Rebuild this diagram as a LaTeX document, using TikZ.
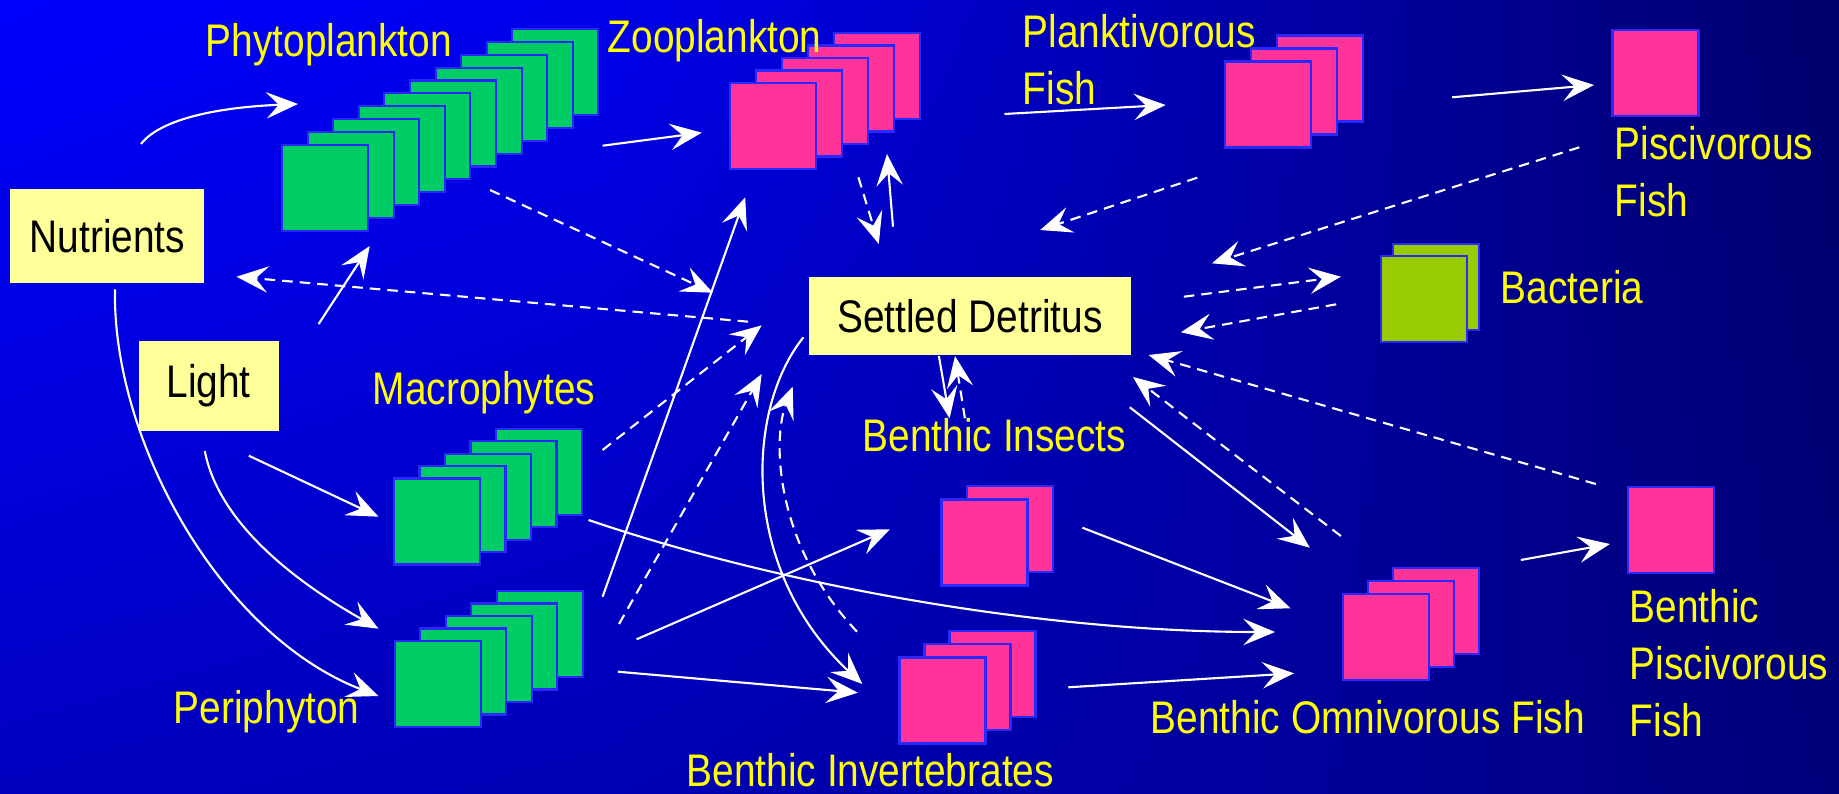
\documentclass[tikz,border=0pt]{standalone}
\usepackage{fontspec}
\setmainfont{Liberation Sans}[FakeStretch=0.85]
\usetikzlibrary{arrows.meta,shadings}

\definecolor{algae}{RGB}{0,204,102}
\definecolor{fauna}{RGB}{255,51,153}
\definecolor{microbe}{RGB}{153,204,0}
\definecolor{rim}{RGB}{40,40,255}
\definecolor{pad}{RGB}{255,255,153}
\definecolor{tag}{RGB}{255,255,0}
% sea colours, top (t) and bottom (b) at four columns
\definecolor{t0}{RGB}{0,0,255}  \definecolor{b0}{RGB}{0,0,192}
\definecolor{t1}{RGB}{0,0,236}  \definecolor{b1}{RGB}{0,0,180}
\definecolor{t2}{RGB}{0,0,172}  \definecolor{b2}{RGB}{0,0,160}
\definecolor{t3}{RGB}{0,0,108}  \definecolor{b3}{RGB}{0,0,122}

\tikzset{
  blob/.style={draw=rim, line width=0.6pt, minimum width=0.86cm, minimum height=0.86cm, inner sep=0pt},
  pool/.style={fill=pad, text=black, inner sep=0pt},
  tag/.style={text=tag, inner sep=0pt},
  flux/.style={draw=white, line width=0.6pt, -{Stealth[length=9pt,width=7.5pt,inset=3.5pt]}},
  detr/.style={flux, dash pattern=on 3pt off 2pt}
}

\begin{document}
\begin{tikzpicture}[x=0.01cm, y=-0.01cm, every node/.style={font=\fontsize{13}{16.2}\selectfont}]
\useasboundingbox (0,0) rectangle (1839,794);
\shade[upper left=t0, upper right=t1, lower left=b0, lower right=b1] (0,0) rectangle (601,794);
\shade[upper left=t1, upper right=t2, lower left=b1, lower right=b2] (600,0) rectangle (1221,794);
\shade[upper left=t2, upper right=t3, lower left=b2, lower right=b3] (1220,0) rectangle (1839,794);

% stacks of squares
\foreach \k in {9,...,0} \node[blob, fill=algae] (phyto-\k) at (325+25.6*\k, 188-12.9*\k) {};
\foreach \k in {4,...,0} \node[blob, fill=fauna] (zoo-\k) at (773+26*\k, 126-12.5*\k) {};
\foreach \k in {2,...,0} \node[blob, fill=fauna] (plankt-\k) at (1268+26*\k, 104.5-13*\k) {};
\node[blob, fill=fauna] (pisc) at (1655.5,73) {};
\foreach \k in {1,0} \node[blob, fill=microbe] (bact-\k) at (1424+11.6*\k, 299-11.7*\k) {};
\foreach \k in {4,...,0} \node[blob, fill=algae] (macro-\k) at (437+25.5*\k, 521.5-12.4*\k) {};
\foreach \k in {4,...,0} \node[blob, fill=algae] (peri-\k) at (438+25.4*\k, 684-12.5*\k) {};
\foreach \k in {1,0} \node[blob, fill=fauna] (insect-\k) at (984.5+25.5*\k, 542.5-13.3*\k) {};
\foreach \k in {2,...,0} \node[blob, fill=fauna] (invert-\k) at (942.5+25*\k, 700.5-13.2*\k) {};
\foreach \k in {2,...,0} \node[blob, fill=fauna] (omni-\k) at (1386+25*\k, 637-13*\k) {};
\node[blob, fill=fauna] (bpisc) at (1671,530) {};

% pools
\node[pool, minimum width=1.94cm, minimum height=0.94cm] (nutr) at (107.4,236) {Nutrients};
\node[pool, minimum width=1.40cm, minimum height=0.90cm] (light) at (208.6,385.7) {Light};
\node[pool, minimum width=3.215cm, minimum height=0.774cm] (detritus) at (970,316) {Settled Detritus};

% labels
\node[tag, anchor=base west] (l-phyto) at (205,56.5) {Phytoplankton};
\node[tag, anchor=base west] (l-zoo) at (607,53) {Zooplankton};
\node[tag, anchor=north west, align=left] (l-plankt) at (1022,14) {Planktivorous\\Fish};
\node[tag, anchor=north west, align=left] (l-pisc) at (1614,125.6) {Piscivorous\\Fish};
\node[tag, anchor=base west] (l-bact) at (1500,303.3) {Bacteria};
\node[tag, anchor=base west] (l-macro) at (372,404) {Macrophytes};
\node[tag, anchor=base west] (l-insect) at (862,451.7) {Benthic Insects};
\node[tag, anchor=base west] (l-peri) at (173,723.3) {Periphyton};
\node[tag, anchor=base west] (l-invert) at (686,786.7) {Benthic Invertebrates};
\node[tag, anchor=base west] (l-omni) at (1150,733.3) {Benthic Omnivorous Fish};
\node[tag, anchor=north west, align=left] (l-bpisc) at (1629,589) {Benthic\\Piscivorous\\Fish};

% arrow ends
\coordinate (a1) at (141,144);     \coordinate (b1) at (298,104);
\coordinate (a2) at (602.6,145.7); \coordinate (b2) at (701.8,132.7);
\coordinate (a3) at (1004.5,114);  \coordinate (b3) at (1165.7,105);
\coordinate (a4) at (1452.2,97.3); \coordinate (b4) at (1594,85);
\coordinate (a5) at (858.4,177.3); \coordinate (b5) at (878.8,244);
\coordinate (a6) at (893,226.7);   \coordinate (b6) at (887,154);
\coordinate (a7) at (1197.3,177.7); \coordinate (b7) at (1040.2,230);
\coordinate (a8) at (1579.4,147.3); \coordinate (b8) at (1211.9,263.3);
\coordinate (a9) at (1183.8,296.7); \coordinate (b9) at (1340.9,276.7);
\coordinate (a10) at (1336.2,304.3); \coordinate (b10) at (1180.8,332.3);
\coordinate (a11) at (490,190);    \coordinate (b11) at (712.9,292.7);
\coordinate (a12) at (748.1,321.7); \coordinate (b12) at (236.5,276.7);
\coordinate (a13) at (318.6,324);  \coordinate (b13) at (369.7,246);
\coordinate (a14) at (602.6,596.7); \coordinate (b14) at (745.2,197.3);
\coordinate (a15) at (602.6,450);  \coordinate (b15) at (761.7,325.3);
\coordinate (a16) at (619,624);    \coordinate (b16) at (761.7,374);
\coordinate (a17) at (803.4,337.3); \coordinate (b17) at (862.3,684);
\coordinate (a18) at (857,631.7);  \coordinate (b18) at (792.7,386.7);
\coordinate (a19) at (938.9,356);  \coordinate (b19) at (949.6,418.3);
\coordinate (a20) at (964.9,418.3); \coordinate (b20) at (955,356);
\coordinate (a21) at (588.5,520);  \coordinate (b21) at (1275,632);
\coordinate (a22) at (636.6,639.3); \coordinate (b22) at (889.9,529.3);
\coordinate (a23) at (617.9,671.7); \coordinate (b23) at (857.8,692.7);
\coordinate (a24) at (248.8,455.7); \coordinate (b24) at (378.5,516.7);
\coordinate (a25) at (204.8,451);  \coordinate (b25) at (378.5,628.7);
\coordinate (a26) at (115,289.3);  \coordinate (b26) at (378.5,696);
\coordinate (a27) at (1082.4,527.7); \coordinate (b27) at (1290.5,608.3);
\coordinate (a28) at (1068.3,687.3); \coordinate (b28) at (1294,673.3);
\coordinate (a29) at (1129.8,407.3); \coordinate (b29) at (1309.8,547.7);
\coordinate (a30) at (1340.9,536); \coordinate (b30) at (1133,377);
\coordinate (a31) at (1595.8,484); \coordinate (b31) at (1148.6,355);
\coordinate (a32) at (1520.8,560); \coordinate (b32) at (1609.9,544);

% flows
\draw[flux] (a1) .. controls (158.8,120.9) and (211.1,107.6) .. (b1);
\foreach \i in {2,3,4,6,13,14,19,22,23,24,27,28,29,32}
  \draw[flux] (a\i) -- (b\i);
\foreach \i in {5,7,8,9,10,11,12,15,16,20,30,31}
  \draw[detr] (a\i) -- (b\i);
\draw[flux] (a17) .. controls (745,410) and (740,570) .. (b17);
\draw[detr] (a18) .. controls (775,545) and (772,440) .. (b18);
\draw[flux] (a21) .. controls (780,585) and (1040,632) .. (b21);
\draw[flux] (a25) .. controls (220,530) and (310,590) .. (b25);
\draw[flux] (a26) .. controls (112,440) and (220,635) .. (b26);
\end{tikzpicture}
\end{document}
